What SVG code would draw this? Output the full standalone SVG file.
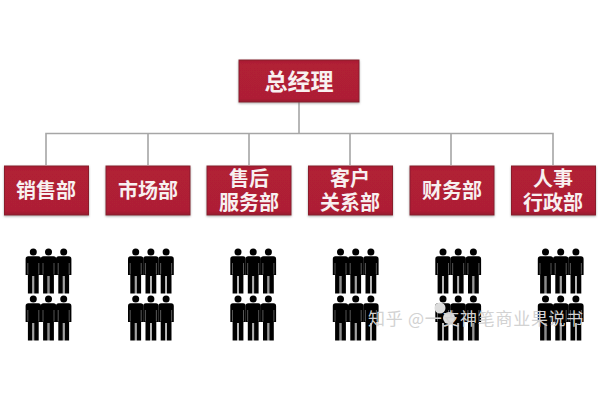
<svg xmlns="http://www.w3.org/2000/svg" xmlns:xlink="http://www.w3.org/1999/xlink" width="600" height="400" viewBox="0 0 600 400">
<style>
.box{fill:url(#red);stroke:#8a1a2c;stroke-width:1;filter:url(#sh)}
.lbl{font-family:"Noto Sans CJK SC","Liberation Sans",sans-serif;font-weight:700;fill:#f8f0f0;text-anchor:middle;font-size:20px}
.top{font-size:23px}
.conn{fill:none;stroke:#a6a6a6;stroke-width:1.6}
.wm{font-family:"Noto Sans CJK SC","Liberation Sans",sans-serif;fill:#d2d2d2;font-size:17px;letter-spacing:.7px}
.soft{filter:url(#b)}
</style>
<defs>
<linearGradient id="red" x1="0" y1="0" x2="0" y2="1"><stop offset="0" stop-color="#a81d32"/><stop offset=".1" stop-color="#b12036"/><stop offset=".92" stop-color="#ae1f34"/><stop offset="1" stop-color="#951b2e"/></linearGradient>
<filter id="sh" x="-5%" y="-10%" width="110%" height="125%"><feDropShadow dx="0" dy="1" stdDeviation="1" flood-color="#777" flood-opacity=".6"/></filter>
<filter id="b" x="-5%" y="-5%" width="110%" height="110%"><feGaussianBlur stdDeviation=".45"/></filter>
<g id="p">
<circle cx="0" cy="0" r="3.500" fill="#000"/>
<path d="M-5 4.200H5Q7.700 4.200 7.700 7V23H5.400V41.500H.9V24H-.9V41.500H-5.400V23H-7.700V7Q-7.700 4.200-5 4.200Z" fill="#000"/>
<path d="M0 24V41.500M-5.500 11V22.500M5.500 11V22.500" stroke="#6e6e6e" stroke-width=".8" fill="none"/>
</g>
<g id="team">
<use xlink:href="#p" href="#p" x="0" y="0"/><use xlink:href="#p" href="#p" x="15.200" y="0"/><use xlink:href="#p" href="#p" x="30.400" y="0"/>
<use xlink:href="#p" href="#p" x="0" y="47"/><use xlink:href="#p" href="#p" x="15.200" y="47"/><use xlink:href="#p" href="#p" x="30.400" y="47"/>
</g>
</defs>
<rect width="600" height="400" fill="#fff"/>
<g id="connectors">
<path class="conn" d="M299 102V133.500M46 165V133.500H553V165M148 133.500V165M249 133.500V165M350 133.500V165M451 133.500V165"/>
</g>
<g id="gm"><rect class="box" x="239" y="60" width="120" height="42"/><text class="lbl top" x="299" y="90">总经理</text></g>
<g id="d1"><rect class="box" x="4.500" y="166" width="84" height="49"/><text class="lbl" x="46" y="198">销售部</text></g>
<g id="d2"><rect class="box" x="106" y="166" width="84" height="49"/><text class="lbl" x="148" y="198">市场部</text></g>
<g id="d3"><rect class="box" x="207" y="166" width="84" height="49"/><text class="lbl" x="249" y="186"><tspan x="249">售后</tspan><tspan x="249" dy="24">服务部</tspan></text></g>
<g id="d4"><rect class="box" x="308.500" y="166" width="84" height="49"/><text class="lbl" x="350" y="186"><tspan x="350">客户</tspan><tspan x="350" dy="24">关系部</tspan></text></g>
<g id="d5"><rect class="box" x="410" y="166" width="84" height="49"/><text class="lbl" x="452" y="198">财务部</text></g>
<g id="d6"><rect class="box" x="511.500" y="166" width="84" height="49"/><text class="lbl" x="553" y="186"><tspan x="553">人事</tspan><tspan x="553" dy="24">行政部</tspan></text></g>
<g class="soft">
<g id="team1"><use xlink:href="#team" href="#team" x="33.300" y="252"/></g>
<g id="team2"><use xlink:href="#team" href="#team" x="135.700" y="252"/></g>
<g id="team3"><use xlink:href="#team" href="#team" x="238" y="252"/></g>
<g id="team4"><use xlink:href="#team" href="#team" x="340.500" y="252"/></g>
<g id="team5"><use xlink:href="#team" href="#team" x="443" y="252"/></g>
<g id="team6"><use xlink:href="#team" href="#team" x="545.500" y="252"/></g>
<g id="wm-icon" fill="#dcdcdc"><circle cx="440" cy="308" r="5.500"/><circle cx="449" cy="318" r="6"/></g>
</g>
<text class="wm" x="368" y="325">知乎 @一支神笔商业果说书</text>
</svg>
